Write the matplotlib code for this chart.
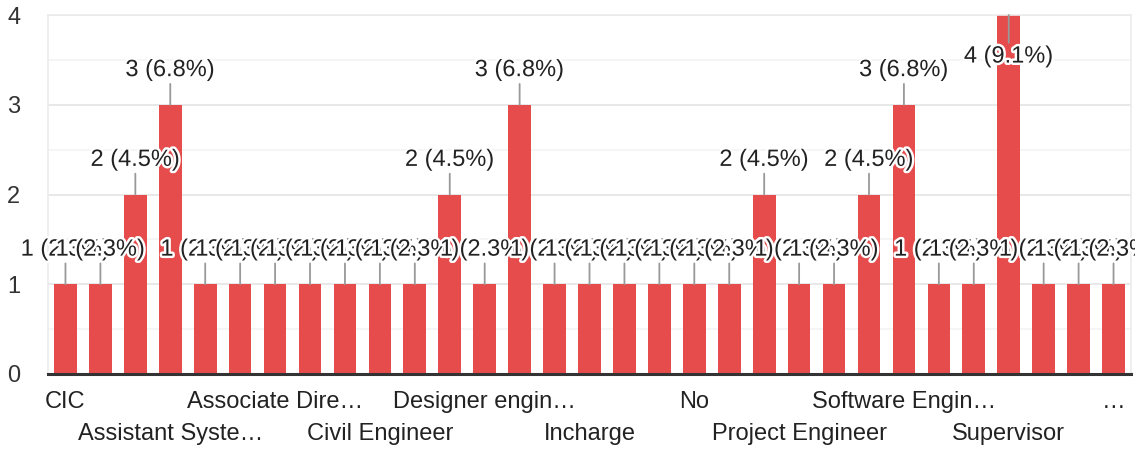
import matplotlib
matplotlib.use('Agg')
import matplotlib.pyplot as plt
import matplotlib.patheffects as pe
from matplotlib.ticker import FixedLocator, FixedFormatter, MultipleLocator

# ---- data ----
categories = ["CIC", "", "", "Assistant Syste…", "", "", "Associate Dire…", "", "",
              "Civil Engineer", "", "", "Designer engin…", "", "", "Incharge", "", "",
              "No", "", "", "Project Engineer", "", "", "Software Engin…", "", "",
              "Supervisor", "", "", "…"]
counts = [1, 1, 2, 3, 1, 1, 1, 1, 1, 1, 1, 2, 1, 3, 1, 1, 1, 1, 1, 1, 2, 1, 1, 2, 3, 1, 1, 4, 1, 1, 1]
total_responses = 44
y_ticks = [0, 1, 2, 3, 4]

plt.rcParams['font.family'] = ['Liberation Sans', 'DejaVu Sans']

fig = plt.figure(figsize=(11.35, 4.5), dpi=100)
ax = fig.add_axes([48/1135, 1 - 374/450, (1131-48)/1135, (374-15)/450])

x = list(range(len(counts)))
bar_color = '#e64c4c'
ax.bar(x, counts, width=0.65, color=bar_color, zorder=2)

ax.set_xlim(-0.5, len(counts) - 0.5)
ax.set_ylim(y_ticks[0], y_ticks[-1])
ax.set_yticks(y_ticks)
ax.yaxis.set_minor_locator(MultipleLocator(0.5))
ax.grid(axis='y', which='major', color='#e8e8e8', lw=1.4, zorder=0)
ax.grid(axis='y', which='minor', color='#f3f3f3', lw=1.2, zorder=0)
ax.tick_params(axis='y', which='both', length=0, labelsize=17, pad=20, labelcolor='#333333')

for s in ['left', 'right', 'top']:
    ax.spines[s].set_color('#ececec')
    ax.spines[s].set_linewidth(1.2)
ax.spines['bottom'].set_color('#333333')
ax.spines['bottom'].set_linewidth(2.2)
ax.spines['bottom'].set_zorder(3)

# x tick labels in two staggered rows
shown = [i for i, c in enumerate(categories) if c]
row1 = shown[0::2]
row2 = shown[1::2]
ax.xaxis.set_major_locator(FixedLocator(row1))
ax.xaxis.set_major_formatter(FixedFormatter([categories[i] for i in row1]))
ax.xaxis.set_minor_locator(FixedLocator(row2))
ax.xaxis.set_minor_formatter(FixedFormatter([categories[i] for i in row2]))
ax.tick_params(axis='x', which='major', length=0, labelsize=17, pad=12, labelcolor='#222222')
ax.tick_params(axis='x', which='minor', length=0, labelsize=17, pad=35, labelcolor='#222222')

# value annotations
ymax = y_ticks[-1]
halo = [pe.withStroke(linewidth=3.5, foreground='white')]
for i, v in enumerate(counts):
    label = f"{v} ({v / total_responses * 100:.1f}%)"
    if v >= ymax:
        ax.annotate(label, xy=(i, v), xytext=(0, -22), textcoords='offset points',
                    ha='center', va='top', fontsize=17, color='#222222',
                    path_effects=halo, zorder=5,
                    arrowprops=dict(arrowstyle='-', color='#999999', lw=1.3,
                                    shrinkA=0, shrinkB=0, relpos=(0.5, 1)))
    else:
        ax.annotate(label, xy=(i, v), xytext=(0, 17), textcoords='offset points',
                    ha='center', va='bottom', fontsize=17, color='#222222',
                    path_effects=halo, zorder=5,
                    arrowprops=dict(arrowstyle='-', color='#999999', lw=1.3,
                                    shrinkA=0, shrinkB=0, relpos=(0.5, 0)))

fig.savefig('out.png', dpi=100)
